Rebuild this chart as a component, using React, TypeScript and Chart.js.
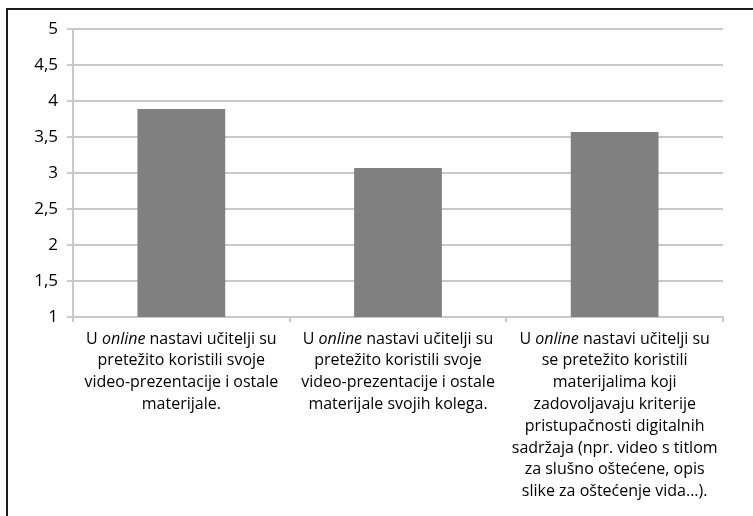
import { useEffect, useRef } from "react";
import { Chart, registerables } from "chart.js";

Chart.register(...registerables);

const categories: string[][] = [
  ["U online nastavi učitelji su", "pretežito koristili svoje", "video-prezentacije i ostale", "materijale."],
  ["U online nastavi učitelji su", "pretežito koristili svoje", "video-prezentacije i ostale", "materijale svojih kolega."],
  [
    "U online nastavi učitelji su",
    "se pretežito koristili",
    "materijalima koji",
    "zadovoljavaju kriterije",
    "pristupačnosti digitalnih",
    "sadržaja (npr. video s titlom",
    "za slušno oštećene, opis",
    "slike za oštećenje vida...).",
  ],
];
const italicWord = "online";
const values = [3.89, 3.07, 3.57];
const yMin = 1;
const yMax = 5;
const yStep = 0.5;

const FONT = "'Open Sans', 'Noto Sans', sans-serif";
const LABEL_SIZE = 16;
const LINE_H = 21.8;
const GRID = "#c9c9c9";

const labelPlugin = {
  id: "mixedLabels",
  afterDraw(chart: any) {
    const ctx = chart.ctx as CanvasRenderingContext2D;
    const xs = chart.scales.x;
    const top = chart.chartArea.bottom + 22;
    ctx.save();
    ctx.fillStyle = "#000";
    ctx.textBaseline = "middle";
    ctx.textAlign = "left";
    const normal = `${LABEL_SIZE}px ${FONT}`;
    const italic = `italic ${LABEL_SIZE}px ${FONT}`;
    categories.forEach((lines, i) => {
      const cx = xs.getPixelForValue(i);
      lines.forEach((line, j) => {
        const y = top + j * LINE_H;
        const parts: { t: string; it: boolean }[] = [];
        const idx = line.indexOf(" " + italicWord + " ");
        if (idx >= 0) {
          parts.push({ t: line.slice(0, idx + 1), it: false });
          parts.push({ t: italicWord, it: true });
          parts.push({ t: line.slice(idx + 1 + italicWord.length), it: false });
        } else {
          parts.push({ t: line, it: false });
        }
        let total = 0;
        const widths = parts.map((p) => {
          ctx.font = p.it ? italic : normal;
          const w = ctx.measureText(p.t).width;
          total += w;
          return w;
        });
        let x = cx - total / 2;
        parts.forEach((p, k) => {
          ctx.font = p.it ? italic : normal;
          ctx.fillText(p.t, x, y);
          x += widths[k];
        });
      });
    });
    ctx.restore();
  },
};

export default function App() {
  const ref = useRef<HTMLCanvasElement | null>(null);
  useEffect(() => {
    if (!ref.current) return;
    const chart = new Chart(ref.current, {
      type: "bar",
      data: {
        labels: categories.map((c) => c.join(" ")),
        datasets: [
          {
            data: values,
            backgroundColor: "#808080",
            borderWidth: 0,
            barPercentage: 0.405,
            categoryPercentage: 1,
          },
        ],
      },
      options: {
        responsive: false,
        animation: false,
        layout: { padding: { left: 0, right: 30, top: 29, bottom: 193 } },
        plugins: { legend: { display: false }, tooltip: { enabled: false } },
        scales: {
          x: {
            offset: true,
            grid: { display: true, drawOnChartArea: false, drawTicks: true, tickLength: 5, color: GRID, lineWidth: 2, offset: true },
            border: { display: true, color: GRID, width: 2 },
            ticks: { display: false },
            afterFit: (s: any) => {
              s.height = 6;
            },
          },
          y: {
            min: yMin,
            max: yMax,
            grid: { color: GRID, lineWidth: 2, tickLength: 6 },
            border: { display: true, color: GRID, width: 2 },
            ticks: {
              stepSize: yStep,
              padding: 9,
              color: "#000",
              font: { family: FONT, size: 17 },
              callback: (v: any) => String(v).replace(".", ","),
            },
            afterFit: (s: any) => {
              s.width = 73;
            },
          },
        },
      },
      plugins: [labelPlugin],
    });
    return () => chart.destroy();
  }, []);
  return (
    <div style={{ position: "fixed", left: 0, top: 0, width: 753, height: 516, overflow: "hidden", background: "#fff" }}>
      <canvas ref={ref} width={753} height={516} style={{ position: "absolute", left: 0, top: 0 }} />
      <div
        style={{
          position: "absolute",
          left: 6,
          top: 8,
          width: 800,
          height: 600,
          borderLeft: "2px solid #1c1c1c",
          borderTop: "2px solid #1c1c1c",
          pointerEvents: "none",
        }}
      />
    </div>
  );
}
